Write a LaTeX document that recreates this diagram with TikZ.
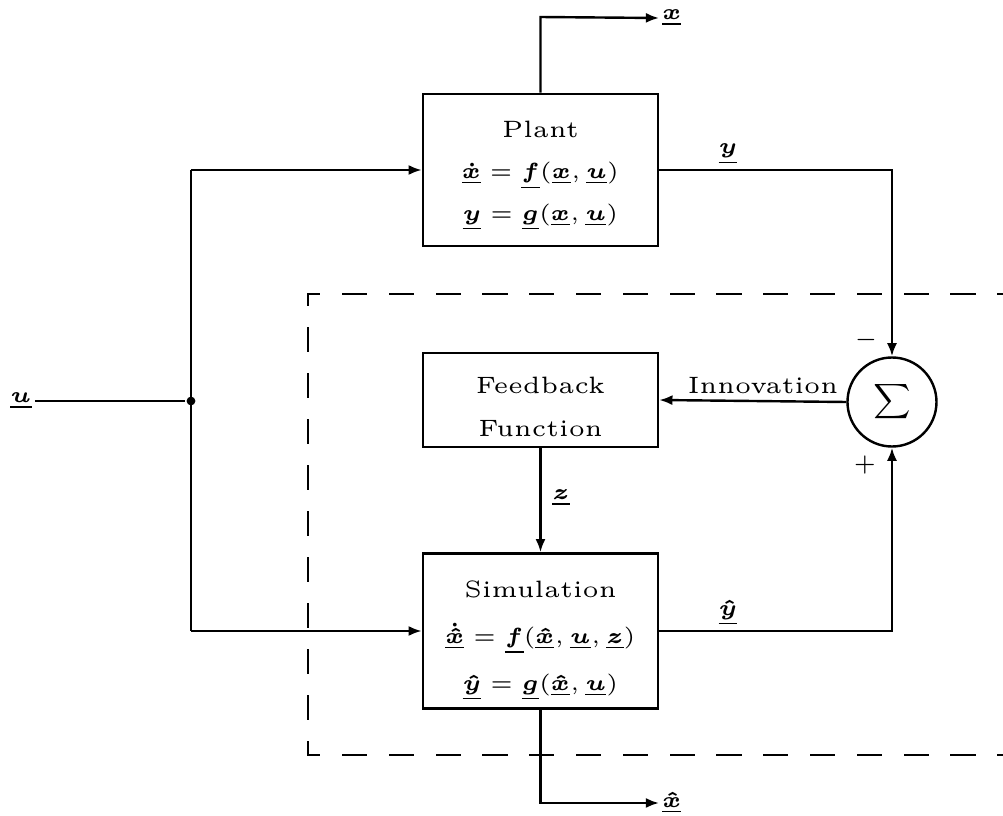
\documentclass[tikz,border=0pt]{standalone}
\usepackage{amsmath}
\usepackage{bm}
\usepackage{graphicx}
\usetikzlibrary{arrows.meta}
\newcommand\ulb[1]{\underline{\bm{#1}}}
\begin{document}
\begin{tikzpicture}[x=0.228pt,y=-0.228pt,
  line width=0.55pt,
  every node/.style={font=\fontsize{5.4}{9.5}\selectfont},
  blk/.style={draw,line width=0.6pt,minimum width=235*0.228pt,align=center,inner sep=0pt},
  arr/.style={-{Latex[length=3pt,width=2.3pt]}},
  dsh/.style={line width=0.6pt,line cap=rect},
  lab/.style={inner sep=0.5pt}]
\useasboundingbox (0,0) rectangle (1003,816);

% blocks
\node[blk,minimum height=152*0.228pt] (plant) at (540.5,170)
  {\rule{0pt}{6.3pt}Plant\\ $\ulb{\dot x}=\ulb{f}(\ulb{x},\ulb{u})$\\ $\ulb{y}=\ulb{g}(\ulb{x},\ulb{u})$};
\node[blk,minimum height=94*0.228pt,font=\fontsize{5.4}{9.8}\selectfont] (fb) at (540.5,400)
  {\rule{0pt}{6.7pt}Feedback\\ Function};
\node[blk,minimum height=155*0.228pt,font=\fontsize{5.4}{10.6}\selectfont] (sim) at (540.5,631)
  {\rule{0pt}{8.1pt}Simulation\\ $\ulb{\dot{\hat x}}=\ulb{f}(\ulb{\hat x},\ulb{u},\ulb{z})$\\ $\ulb{\hat y}=\ulb{g}(\ulb{\hat x},\ulb{u})$};
\node[draw,circle,minimum size=89*0.228pt,inner sep=0pt,line width=0.55pt] (sum) at (892,402)
  {\resizebox*{8.6pt}{8.9pt}{$\displaystyle\sum$}};

% input
\node[lab] (ulab) at (21,401) {$\ulb{u}$};
\node[circle,fill,inner sep=0pt,minimum size=2pt] (junc) at (191,401) {};
\coordinate (ct) at (191,170);
\coordinate (cb) at (191,631);
\draw (ulab.east) -- (junc);
\draw (ct) -- (cb);
\draw[arr] (ct) -- (plant.west);
\draw[arr] (cb) -- (sim.west);

% plant outputs
\coordinate (xt) at (540.5,17);
\node[lab,anchor=west] (xlab) at (659,18) {$\ulb{x}$};
\draw[arr] (plant.north) -- (xt) -- (xlab.west);
\draw[arr] (plant.east) -- (plant.east -| sum.north) -- (sum.north);
\node[lab] (ylab) at (728,154) {$\ulb{y}$};

% summing junction signs
\node[lab] (minus) at (866,340) {$-$};
\node[lab] (plus) at (865,465) {$+$};

% innovation
\draw[arr] (sum.west) -- (fb.east);
\node[lab] (innov) at (763,386) {Innovation};

% z
\draw[arr] (fb.south) -- (sim.north);
\node[lab] (zlab) at (561,498) {$\ulb{z}$};

% simulation outputs
\draw[arr] (sim.east) -- (sim.east -| sum.south) -- (sum.south);
\node[lab] (yhlab) at (728,613) {$\ulb{\hat y}$};
\coordinate (xb) at (540.5,803);
\node[lab,anchor=west] (xhlab) at (659,803) {$\ulb{\hat x}$};
\draw[arr] (sim.south) -- (xb) -- (xhlab.west);

% dashed observer frame
\draw[dsh,dash pattern=on 5.13pt off 5.54pt,dash phase=2.62pt] (308,294) -- (1003,294);
\draw[dsh,dash pattern=on 5.13pt off 5.36pt,dash phase=2.62pt] (308,294) -- (308,755);
\draw[dsh,dash pattern=on 5.13pt off 5.54pt,dash phase=2.62pt] (308,755) -- (1003,755);
\end{tikzpicture}
\end{document}
